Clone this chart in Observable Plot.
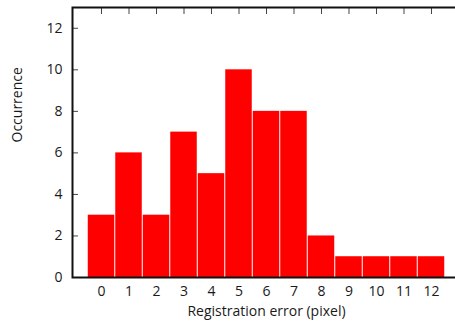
<!DOCTYPE html>
<html>
<head>
<meta charset="utf-8">
<script src="https://cdn.jsdelivr.net/npm/d3@7"></script>
<script src="https://cdn.jsdelivr.net/npm/@observablehq/plot@0.6"></script>
<style>
  html, body { margin: 0; padding: 0; background: #fff; overflow: hidden; width: 455px; height: 329px; }
  #chart { width: 455px; height: 329px; overflow: hidden; }
  #chart svg { max-width: none !important; }
</style>
</head>
<body>
<div id="chart"></div>
<script>
const errors = [0, 1, 2, 3, 4, 5, 6, 7, 8, 9, 10, 11, 12];
const occurrences = [3, 6, 3, 7, 5, 10, 8, 8, 2, 1, 1, 1, 1];
const yTicks = [0, 2, 4, 6, 8, 10, 12];
const xTicks = errors;
const xLabel = "Registration error (pixel)";
const yLabel = "Occurrence";

const data = errors.map((e, i) => ({x: e, v: occurrences[i]}));

const chart = Plot.plot({
  width: 462,
  height: 329,
  marginLeft: 72,
  marginRight: 2,
  marginTop: 7,
  marginBottom: 52,
  style: {fontFamily: "'Open Sans', sans-serif", fontSize: "14px", color: "#1a1a1a", background: "#fff"},
  x: {type: "linear", domain: [-1.055, 13.055]},
  y: {domain: [0, 13]},
  marks: [
    Plot.rectY(data, {x1: d => d.x - 0.5, x2: d => d.x + 0.5, y: "v", fill: "#ff0000", insetLeft: 0.5, insetRight: 0.5}),
    Plot.axisY(yTicks, {anchor: "left", tickSize: -6, text: null, stroke: "#444", label: null}),
    Plot.axisY(yTicks, {anchor: "right", tickSize: -6, text: null, stroke: "#444", label: null}),
    Plot.axisX(xTicks, {anchor: "top", tickSize: -6, text: null, stroke: "#444", label: null}),
    Plot.axisY(yTicks, {anchor: "left", tickSize: 0, tickPadding: 10, label: null, fill: "#1a1a1a"}),
    Plot.axisX(xTicks, {anchor: "bottom", tickSize: 0, tickPadding: 9, label: null, fill: "#1a1a1a"}),
    Plot.frame({stroke: "#111", strokeWidth: 2}),
    Plot.text([xLabel], {frameAnchor: "bottom", dy: 38, text: d => d, fill: "#1a1a1a", fontSize: 14}),
    Plot.text([yLabel], {frameAnchor: "left", dx: -55, rotate: -90, text: d => d, fill: "#1a1a1a", fontSize: 14})
  ]
});
chart.style.maxWidth = "none";
document.getElementById("chart").appendChild(chart);
</script>
</body>
</html>
